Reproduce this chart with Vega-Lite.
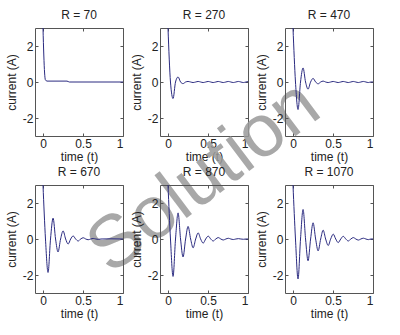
{
  "$schema": "https://vega.github.io/schema/vega-lite/v6.json",
  "padding": {"left": 4, "top": 8, "right": 5, "bottom": 5},
  "datasets": {
    "curves": [
      {"R": 70, "t": 0, "i": 3}, {"R": 70, "t": 0.01, "i": 1.5}, {"R": 70, "t": 0.02, "i": 0.5}, {"R": 70, "t": 0.03, "i": 0.12}, {"R": 70, "t": 0.05, "i": 0.05}, {"R": 70, "t": 0.3, "i": 0.05}, {"R": 70, "t": 0.33, "i": 0}, {"R": 70, "t": 1.0, "i": 0},

      {"R": 270, "t": 0, "i": 3}, {"R": 270, "t": 0.031, "i": 0}, {"R": 270, "t": 0.063, "i": -0.92}, {"R": 270, "t": 0.094, "i": 0}, {"R": 270, "t": 0.126, "i": 0.28}, {"R": 270, "t": 0.157, "i": 0}, {"R": 270, "t": 0.188, "i": -0.09}, {"R": 270, "t": 0.22, "i": 0}, {"R": 270, "t": 0.251, "i": 0.03}, {"R": 270, "t": 0.283, "i": 0}, {"R": 270, "t": 0.314, "i": -0.03}, {"R": 270, "t": 0.346, "i": 0}, {"R": 270, "t": 0.377, "i": 0.03}, {"R": 270, "t": 0.408, "i": 0}, {"R": 270, "t": 0.44, "i": -0.03}, {"R": 270, "t": 0.471, "i": 0}, {"R": 270, "t": 0.503, "i": 0.03}, {"R": 270, "t": 0.534, "i": 0}, {"R": 270, "t": 0.565, "i": -0.03}, {"R": 270, "t": 0.597, "i": 0}, {"R": 270, "t": 0.628, "i": 0.03}, {"R": 270, "t": 0.66, "i": 0}, {"R": 270, "t": 0.691, "i": -0.03}, {"R": 270, "t": 0.723, "i": 0}, {"R": 270, "t": 0.754, "i": 0.03}, {"R": 270, "t": 0.785, "i": 0}, {"R": 270, "t": 0.817, "i": -0.03}, {"R": 270, "t": 0.848, "i": 0}, {"R": 270, "t": 0.88, "i": 0.03}, {"R": 270, "t": 0.911, "i": 0}, {"R": 270, "t": 0.942, "i": -0.03}, {"R": 270, "t": 0.974, "i": 0}, {"R": 270, "t": 1.0, "i": 0.02},

      {"R": 470, "t": 0, "i": 3}, {"R": 470, "t": 0.031, "i": 0}, {"R": 470, "t": 0.063, "i": -1.53}, {"R": 470, "t": 0.094, "i": 0}, {"R": 470, "t": 0.126, "i": 0.78}, {"R": 470, "t": 0.157, "i": 0}, {"R": 470, "t": 0.188, "i": -0.4}, {"R": 470, "t": 0.22, "i": 0}, {"R": 470, "t": 0.251, "i": 0.2}, {"R": 470, "t": 0.283, "i": 0}, {"R": 470, "t": 0.314, "i": -0.1}, {"R": 470, "t": 0.346, "i": 0}, {"R": 470, "t": 0.377, "i": 0.05}, {"R": 470, "t": 0.408, "i": 0}, {"R": 470, "t": 0.44, "i": -0.03}, {"R": 470, "t": 0.471, "i": 0}, {"R": 470, "t": 0.503, "i": 0.03}, {"R": 470, "t": 0.534, "i": 0}, {"R": 470, "t": 0.565, "i": -0.03}, {"R": 470, "t": 0.597, "i": 0}, {"R": 470, "t": 0.628, "i": 0.03}, {"R": 470, "t": 0.66, "i": 0}, {"R": 470, "t": 0.691, "i": -0.03}, {"R": 470, "t": 0.723, "i": 0}, {"R": 470, "t": 0.754, "i": 0.03}, {"R": 470, "t": 0.785, "i": 0}, {"R": 470, "t": 0.817, "i": -0.03}, {"R": 470, "t": 0.848, "i": 0}, {"R": 470, "t": 0.88, "i": 0.03}, {"R": 470, "t": 0.911, "i": 0}, {"R": 470, "t": 0.942, "i": -0.03}, {"R": 470, "t": 0.974, "i": 0}, {"R": 470, "t": 1.0, "i": 0},

      {"R": 670, "t": 0, "i": 3}, {"R": 670, "t": 0.031, "i": 0}, {"R": 670, "t": 0.063, "i": -1.86}, {"R": 670, "t": 0.094, "i": 0}, {"R": 670, "t": 0.126, "i": 1.16}, {"R": 670, "t": 0.157, "i": 0}, {"R": 670, "t": 0.188, "i": -0.72}, {"R": 670, "t": 0.22, "i": 0}, {"R": 670, "t": 0.251, "i": 0.45}, {"R": 670, "t": 0.283, "i": 0}, {"R": 670, "t": 0.314, "i": -0.28}, {"R": 670, "t": 0.346, "i": 0}, {"R": 670, "t": 0.377, "i": 0.17}, {"R": 670, "t": 0.408, "i": 0}, {"R": 670, "t": 0.44, "i": -0.11}, {"R": 670, "t": 0.471, "i": 0}, {"R": 670, "t": 0.503, "i": 0.07}, {"R": 670, "t": 0.534, "i": 0}, {"R": 670, "t": 0.565, "i": -0.04}, {"R": 670, "t": 0.597, "i": 0}, {"R": 670, "t": 0.628, "i": 0.03}, {"R": 670, "t": 0.66, "i": 0}, {"R": 670, "t": 0.691, "i": -0.02}, {"R": 670, "t": 0.723, "i": 0}, {"R": 670, "t": 0.85, "i": 0.01}, {"R": 670, "t": 1.0, "i": 0},

      {"R": 870, "t": 0, "i": 3}, {"R": 870, "t": 0.031, "i": 0}, {"R": 870, "t": 0.063, "i": -2.08}, {"R": 870, "t": 0.094, "i": 0}, {"R": 870, "t": 0.126, "i": 1.45}, {"R": 870, "t": 0.157, "i": 0}, {"R": 870, "t": 0.188, "i": -1.0}, {"R": 870, "t": 0.22, "i": 0}, {"R": 870, "t": 0.251, "i": 0.7}, {"R": 870, "t": 0.283, "i": 0}, {"R": 870, "t": 0.314, "i": -0.49}, {"R": 870, "t": 0.346, "i": 0}, {"R": 870, "t": 0.377, "i": 0.34}, {"R": 870, "t": 0.408, "i": 0}, {"R": 870, "t": 0.44, "i": -0.23}, {"R": 870, "t": 0.471, "i": 0}, {"R": 870, "t": 0.503, "i": 0.16}, {"R": 870, "t": 0.534, "i": 0}, {"R": 870, "t": 0.565, "i": -0.11}, {"R": 870, "t": 0.597, "i": 0}, {"R": 870, "t": 0.628, "i": 0.08}, {"R": 870, "t": 0.66, "i": 0}, {"R": 870, "t": 0.691, "i": -0.055}, {"R": 870, "t": 0.723, "i": 0}, {"R": 870, "t": 0.754, "i": 0.04}, {"R": 870, "t": 0.785, "i": 0}, {"R": 870, "t": 0.817, "i": -0.03}, {"R": 870, "t": 0.848, "i": 0}, {"R": 870, "t": 0.88, "i": 0.02}, {"R": 870, "t": 0.911, "i": 0}, {"R": 870, "t": 0.942, "i": -0.015}, {"R": 870, "t": 0.974, "i": 0}, {"R": 870, "t": 1.0, "i": 0},

      {"R": 1070, "t": 0, "i": 3}, {"R": 1070, "t": 0.031, "i": 0}, {"R": 1070, "t": 0.063, "i": -2.22}, {"R": 1070, "t": 0.094, "i": 0}, {"R": 1070, "t": 0.126, "i": 1.64}, {"R": 1070, "t": 0.157, "i": 0}, {"R": 1070, "t": 0.188, "i": -1.21}, {"R": 1070, "t": 0.22, "i": 0}, {"R": 1070, "t": 0.251, "i": 0.9}, {"R": 1070, "t": 0.283, "i": 0}, {"R": 1070, "t": 0.314, "i": -0.66}, {"R": 1070, "t": 0.346, "i": 0}, {"R": 1070, "t": 0.377, "i": 0.49}, {"R": 1070, "t": 0.408, "i": 0}, {"R": 1070, "t": 0.44, "i": -0.36}, {"R": 1070, "t": 0.471, "i": 0}, {"R": 1070, "t": 0.503, "i": 0.27}, {"R": 1070, "t": 0.534, "i": 0}, {"R": 1070, "t": 0.565, "i": -0.2}, {"R": 1070, "t": 0.597, "i": 0}, {"R": 1070, "t": 0.628, "i": 0.15}, {"R": 1070, "t": 0.66, "i": 0}, {"R": 1070, "t": 0.691, "i": -0.11}, {"R": 1070, "t": 0.723, "i": 0}, {"R": 1070, "t": 0.754, "i": 0.08}, {"R": 1070, "t": 0.785, "i": 0}, {"R": 1070, "t": 0.817, "i": -0.06}, {"R": 1070, "t": 0.848, "i": 0}, {"R": 1070, "t": 0.88, "i": 0.045}, {"R": 1070, "t": 0.911, "i": 0}, {"R": 1070, "t": 0.942, "i": -0.035}, {"R": 1070, "t": 0.974, "i": 0}, {"R": 1070, "t": 1.0, "i": 0}
    ]
  },
  "data": {"name": "curves"},
  "facet": {
    "field": "R", "type": "ordinal", "sort": "ascending",
    "header": {"title": null, "labelExpr": "'R = ' + datum.value", "labelFontSize": 12, "labelFont": "Liberation Sans", "labelColor": "#222", "labelPadding": 6}
  },
  "columns": 3,
  "spacing": {"column": 37, "row": 49},
  "bounds": "flush",
  "resolve": {"axis": {"x": "independent", "y": "independent"}},
  "spec": {
    "width": 88,
    "height": 108,
    "resolve": {"axis": {"x": "independent", "y": "independent"}},
    "layer": [
      {
        "mark": {"type": "line", "color": "#2a2a80", "strokeWidth": 1, "clip": true, "interpolate": "monotone"},
        "encoding": {
          "x": {"field": "t", "type": "quantitative", "scale": {"domain": [-0.1, 1], "nice": false, "zero": false},
                "axis": {"values": [0, 0.5, 1], "labelExpr": "'' + datum.value", "title": "time (t)", "titlePadding": 2}},
          "y": {"field": "i", "type": "quantitative", "scale": {"domain": [-3, 3], "nice": false, "zero": false},
                "axis": {"values": [-2, 0, 2], "labelExpr": "'' + datum.value", "title": "current (A)", "titlePadding": 4}}
        }
      },
      {
        "mark": {"type": "line", "strokeOpacity": 0, "clip": true},
        "encoding": {
          "x": {"field": "t", "type": "quantitative", "axis": {"orient": "top", "values": [0, 0.5, 1], "labels": false, "title": null}},
          "y": {"field": "i", "type": "quantitative", "axis": {"orient": "right", "values": [-2, 0, 2], "labels": false, "title": null}}
        }
      },
      {
        "transform": [{"filter": "datum.R == 270 && datum.t == 0"}],
        "mark": {"type": "text", "text": "Solution", "angle": 323, "fontSize": 74, "color": "#9a9a9a", "opacity": 0.85, "font": "Liberation Sans", "align": "center", "baseline": "middle", "clip": false},
        "encoding": {
          "x": {"datum": 0.45, "type": "quantitative", "axis": null},
          "y": {"datum": -5.3, "type": "quantitative", "axis": null}
        }
      }
    ]
  },
  "config": {
    "font": "Liberation Sans",
    "view": {"stroke": "#555", "strokeWidth": 1},
    "axis": {"domain": false, "grid": false, "ticks": true, "tickSize": -3, "tickColor": "#555", "labelPadding": 5, "labelFontSize": 12, "titleFontSize": 12, "titleFontWeight": "normal", "labelColor": "#222", "titleColor": "#222", "labelFont": "Liberation Sans", "titleFont": "Liberation Sans"}
  }
}
